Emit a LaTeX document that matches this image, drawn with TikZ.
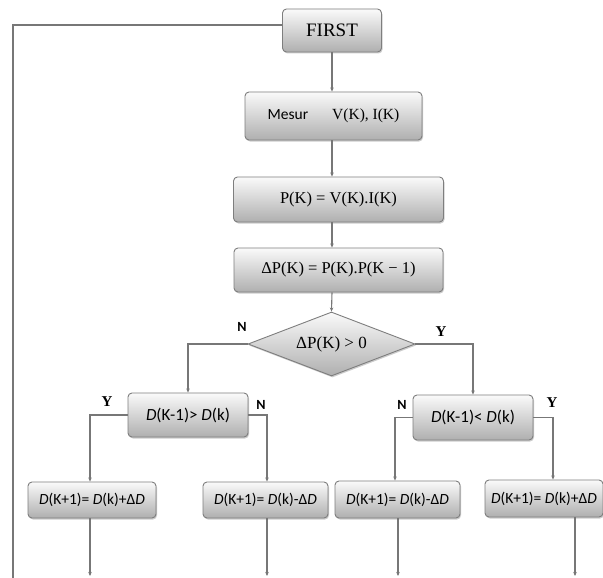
\documentclass[tikz,border=0pt]{standalone}
\usepackage{fontspec}
\setmainfont{Liberation Serif}
\newfontfamily\carl{Carlito}
\usetikzlibrary{shapes.geometric,shadows,arrows.meta}
\definecolor{boxline}{HTML}{7E7E7E}
\definecolor{boxtop}{HTML}{FAFAFA}
\definecolor{boxbot}{HTML}{AFAFAF}
\definecolor{linegray}{HTML}{777777}
\begin{document}
\begin{tikzpicture}[x=1pt,y=-1pt,
  box/.style={draw=boxline, line width=0.9pt, rounded corners=4pt,
    top color=boxtop, bottom color=boxbot,
    drop shadow={shadow xshift=1pt,shadow yshift=-1.5pt,opacity=0.4},
    inner sep=0pt, align=center},
  dia/.style={diamond, draw=boxline, line width=0.9pt,
    top color=boxtop, bottom color=boxbot,
    drop shadow={shadow xshift=1pt,shadow yshift=-1.5pt,opacity=0.4},
    inner sep=0pt, aspect=2.6},
  conn/.style={draw=linegray, line width=1.1pt},
  arr/.style={conn, -{Stealth[length=4pt,width=3.5pt]}},
  ylab/.style={font=\bfseries\fontsize{15}{16}\selectfont, inner sep=0pt},
  nlab/.style={font=\carl\bfseries\fontsize{14}{15}\selectfont, inner sep=0pt},
  dtext/.style={font=\carl\fontsize{17}{18}\selectfont},
  btext/.style={font=\carl\fontsize{15.5}{16}\selectfont}
]
\fill[white] (0,0) rectangle (603,578);
\useasboundingbox (0,0) rectangle (603,578);

\node[box, minimum width=99pt, minimum height=43pt, font=\fontsize{19}{20}\selectfont] (first) at (332,30.5) {FIRST};
\node[box, minimum width=177pt, minimum height=48pt] (mes) at (333.5,116)
  {{\carl\fontsize{15.5}{16}\selectfont Mesur}\hspace{24pt}{\fontsize{15.5}{16}\selectfont V(K), I(K)}};
\node[box, minimum width=210pt, minimum height=45pt, font=\fontsize{16.5}{17}\selectfont] (pk) at (338.5,199.5) {P(K) = V(K).I(K)};
\node[box, minimum width=209pt, minimum height=44pt, font=\fontsize{16.5}{17}\selectfont] (dp) at (338.5,270) {ΔP(K) = P(K).P(K − 1)};
\node[dia, minimum width=167pt, minimum height=64pt, font=\fontsize{17}{18}\selectfont] (dec) at (331.5,344) {ΔP(K) > 0};

\node[box, dtext, minimum width=120pt, minimum height=44pt] (L) at (188,415) {\textit{D}(K-1)> \textit{D}(k)};
\node[box, dtext, minimum width=120pt, minimum height=45pt] (R) at (473,417.5) {\textit{D}(K-1)< \textit{D}(k)};

\node[box, btext, minimum width=128pt, minimum height=36pt] (B1) at (92,500) {\textit{D}(K+1)= \textit{D}(k)+Δ\textit{D}};
\node[box, btext, minimum width=125pt, minimum height=36pt] (B2) at (265.5,500) {\textit{D}(K+1)= \textit{D}(k)-Δ\textit{D}};
\node[box, btext, minimum width=125pt, minimum height=37pt] (B3) at (397.5,499.5) {\textit{D}(K+1)= \textit{D}(k)-Δ\textit{D}};
\node[box, btext, minimum width=118pt, minimum height=37pt] (B4) at (544,498.5) {\textit{D}(K+1)= \textit{D}(k)+Δ\textit{D}};

% labels
\node[nlab] (n0) at (242,327) {N};
\node[ylab] (y0) at (441,332) {Y};
\node[ylab] (y1) at (107,402) {Y};
\node[nlab] (n1) at (261,405) {N};
\node[nlab] (n2) at (402,405) {N};
\node[ylab] (y2) at (552,403) {Y};

% loop-back line
\coordinate (lt) at (13,25);
\coordinate (lb) at (13,578);
\draw[conn] (first.west |- lt) -- (lt) -- (lb);

% main chain
\draw[arr] (first.south) -- (first.south |- mes.north);
\draw[arr] (first.south |- mes.south) -- (first.south |- pk.north);
\draw[arr] (first.south |- pk.south) -- (first.south |- dp.north);
\draw[arr] (first.south |- dp.south) -- (dec.north);

% branches
\draw[arr] (dec.west) -| (L.north);
\draw[arr] (dec.east) -| (R.north);
\draw[arr] (L.west) -| ([xshift=-2pt]B1.north);
\draw[arr] (L.east) -| ([xshift=1.5pt]B2.north);
\draw[arr] (R.west) -| ([xshift=-2.5pt]B3.north);
\draw[arr] (R.east) -| ([xshift=9pt]B4.north);

% outgoing arrows
\coordinate (bot) at (0,576);
\draw[arr] ([xshift=-2pt]B1.south) -- ([xshift=-2pt]B1.south |- bot);
\draw[arr] ([xshift=1.5pt]B2.south) -- ([xshift=1.5pt]B2.south |- bot);
\draw[arr] ([xshift=0.5pt]B3.south) -- ([xshift=0.5pt]B3.south |- bot);
\draw[arr] ([xshift=31pt]B4.south) -- ([xshift=31pt]B4.south |- bot);
\end{tikzpicture}
\end{document}
